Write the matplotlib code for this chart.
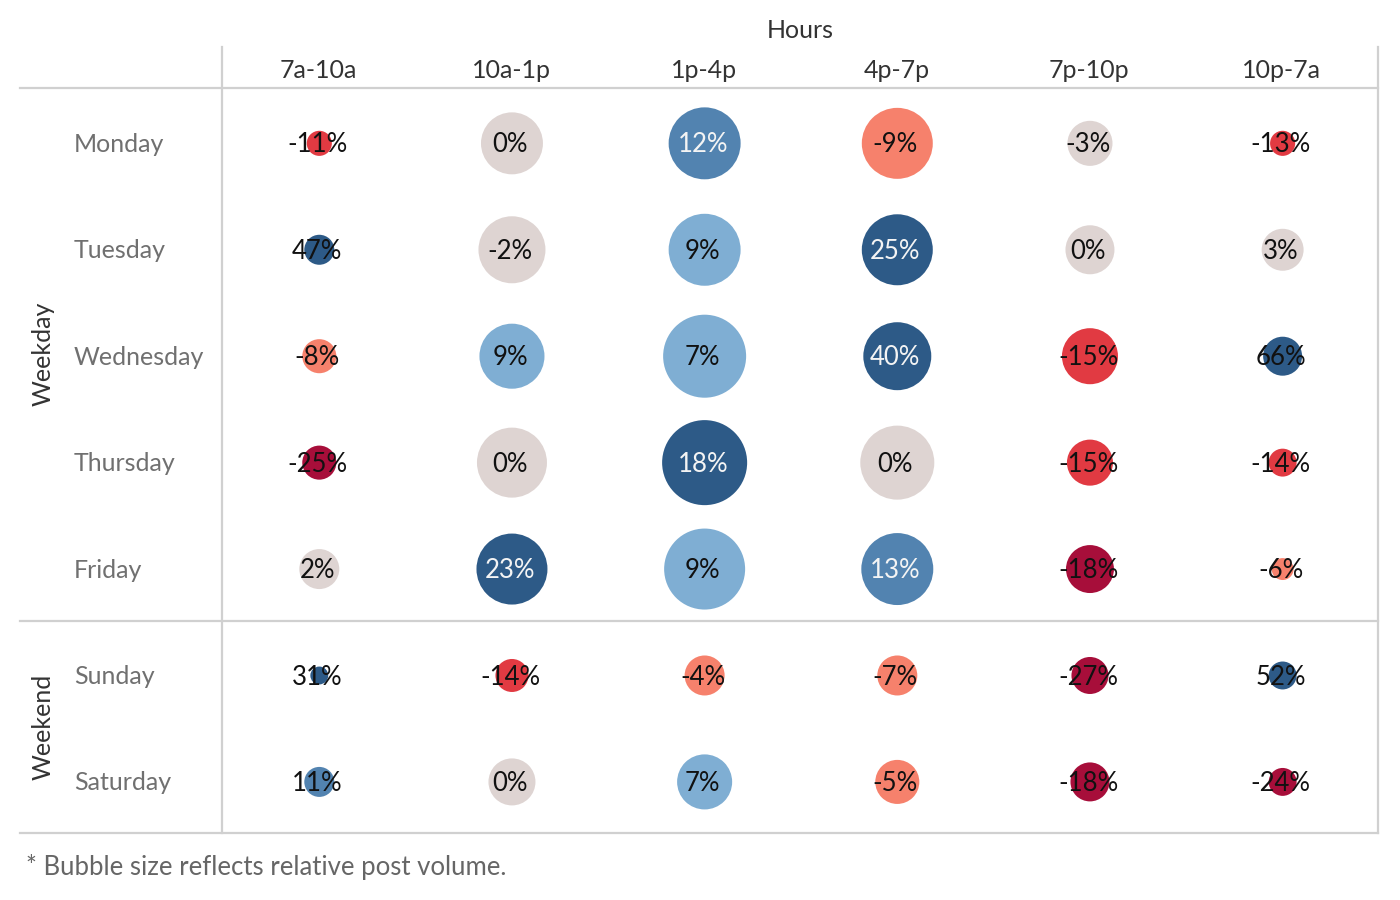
import matplotlib
matplotlib.use("Agg")
import matplotlib.pyplot as plt
from matplotlib.colors import ListedColormap, BoundaryNorm
from matplotlib.lines import Line2D
from matplotlib.transforms import blended_transform_factory
import numpy as np

plt.rcParams['font.family'] = ['Lato', 'DejaVu Sans']

hours = ['7a-10a', '10a-1p', '1p-4p', '4p-7p', '7p-10p', '10p-7a']
days = ['Monday', 'Tuesday', 'Wednesday', 'Thursday', 'Friday', 'Sunday', 'Saturday']
groups = ['Weekday', 'Weekend']
group_sizes = [5, 2]

# change in engagement, % (rows = days, cols = hours)
change = np.array([
    [-11, 0, 12, -9, -3, -13],
    [47, -2, 9, 25, 0, 3],
    [-8, 9, 7, 40, -15, 66],
    [-25, 0, 18, 0, -15, -14],
    [2, 23, 9, 13, -18, -6],
    [31, -14, -4, -7, -27, 52],
    [11, 0, 7, -5, -18, -24],
])

# relative post volume (bubble area)
post_volume = np.array([
    [6.3, 38.4, 51.8, 50.4, 20.3, 6.3],
    [9.0, 44.9, 51.8, 50.4, 24.0, 17.6],
    [11.6, 42.3, 68.9, 46.2, 31.4, 15.2],
    [11.6, 49.0, 72.3, 54.8, 21.2, 7.8],
    [16.0, 50.4, 65.6, 51.8, 23.0, 4.8],
    [3.2, 10.9, 16.0, 16.0, 13.7, 7.8],
    [9.0, 22.1, 30.3, 19.4, 15.2, 7.8],
])

bins = [-100, -16, -10, -3.5, 3.5, 10, 15, 100]
palette = ['#a70e3a', '#e13a42', '#f6816c', '#ded4d2', '#7faed3', '#5283b0', '#2d5a87']
cmap = ListedColormap(palette)
norm = BoundaryNorm(bins, cmap.N)

W, H = 1400, 900
fig = plt.figure(figsize=(W / 100, H / 100), dpi=100)

def fx(x):
    return x / W

def fy(y):
    return 1 - y / H

ax = fig.add_axes([fx(222), fy(833), fx(1378) - fx(222), fy(88) - fy(833)])
ax.set_xlim(-0.5, len(hours) - 0.5)
ax.set_ylim(len(days) - 0.5, -0.5)
ax.axis('off')

cols, rows = np.meshgrid(np.arange(len(hours)), np.arange(len(days)))
ax.scatter(cols.ravel() + 0.005, rows.ravel() + 0.02, s=post_volume.ravel() * 51.84,
           c=change.ravel(), cmap=cmap, norm=norm, linewidths=0)

for r in range(len(days)):
    for c in range(len(hours)):
        v = change[r, c]
        white = v > 10 and post_volume[r, c] > 25
        ax.text(c - 0.005, r + 0.035, f'{v}%', ha='center', va='center', fontsize=18.5,
                color='#f4f4f4' if white else '#111111')

# headers
tr_col = blended_transform_factory(ax.transData, fig.transFigure)
for c, h in enumerate(hours):
    ax.text(c, fy(70), h, transform=tr_col, ha='center', va='center', fontsize=18, color='#333333')
fig.text(fx(800), fy(30), 'Hours', ha='center', va='center', fontsize=18, color='#333333')

tr_row = blended_transform_factory(fig.transFigure, ax.transData)
for r, d in enumerate(days):
    ax.text(fx(74), r + 0.03, d, transform=tr_row, ha='left', va='center', fontsize=18,
            color='#707070')

start = 0
for g, n in zip(groups, group_sizes):
    mid = start + (n - 1) / 2
    ax.text(fx(43), mid, g, transform=tr_row, ha='center', va='center', rotation=90,
            fontsize=18, color='#333333')
    start += n

# grid lines
line_kw = dict(color='#d0d0d0', linewidth=1.6, transform=fig.transFigure)
fig.add_artist(Line2D([fx(20), fx(1378)], [fy(88), fy(88)], **line_kw))
fig.add_artist(Line2D([fx(20), fx(1378)], [fy(621), fy(621)], **line_kw))
fig.add_artist(Line2D([fx(20), fx(1378)], [fy(833), fy(833)], **line_kw))
fig.add_artist(Line2D([fx(222), fx(222)], [fy(47), fy(833)], **line_kw))
fig.add_artist(Line2D([fx(1378), fx(1378)], [fy(47), fy(833)], **line_kw))

fig.text(fx(26), fy(867), '* Bubble size reflects relative post volume.', ha='left', va='center',
         fontsize=18.5, color='#666666')

fig.savefig('out.png', dpi=100, facecolor='white')
